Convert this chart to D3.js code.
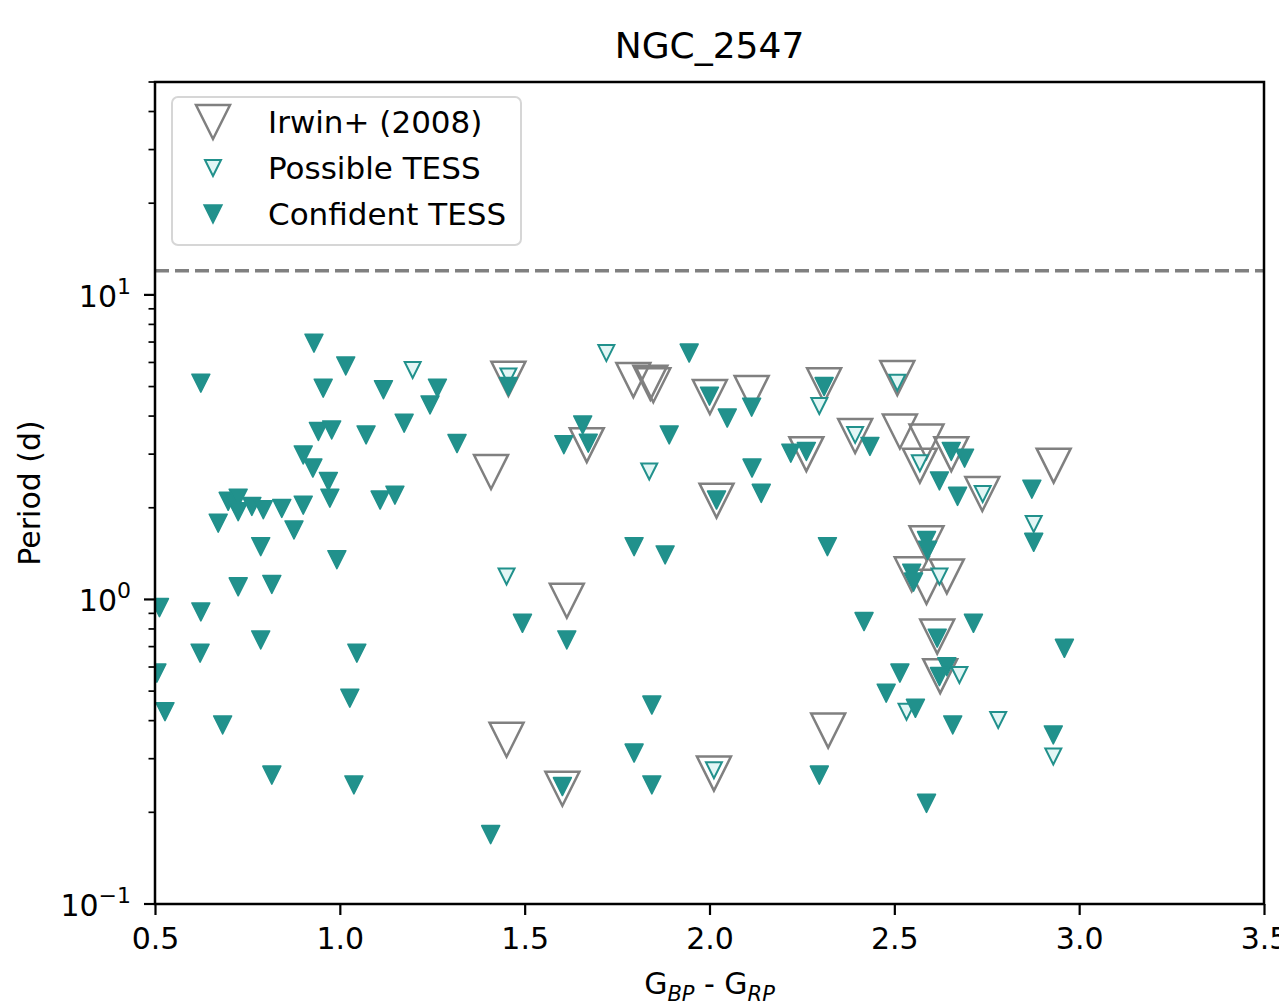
<!DOCTYPE html>
<html>
<head>
<meta charset="utf-8">
<script src="https://cdn.jsdelivr.net/npm/d3@7"></script>
<style>
  body { margin: 0; background: #fff; }
  text { font-family: "DejaVu Sans", sans-serif; fill: #000; }
</style>
</head>
<body>
<div id="chart"></div>
<script>
// colour index and period (d)
var irwinX = [1.456, 1.409, 1.614, 1.451, 1.602, 1.668, 1.794, 1.840, 1.848, 2.001, 2.019, 2.012,
  2.114, 2.310, 2.262, 2.321, 2.394, 2.508, 2.515, 2.587, 2.569, 2.654, 2.738, 2.931,
  2.587, 2.547, 2.642, 2.587, 2.616, 2.624];
var irwinP = [5.30, 2.62, 0.99, 0.346, 0.239, 3.21, 5.25, 5.15, 5.05, 4.62, 2.11, 0.268,
  4.76, 5.05, 3.00, 0.371, 3.44, 5.33, 3.56, 3.30, 2.75, 3.00, 2.22, 2.75,
  1.53, 1.21, 1.19, 1.10, 0.755, 0.560];

var possX = [1.197, 1.721, 1.456, 1.837, 1.451, 2.012, 2.297, 2.508, 2.394, 2.569, 2.739,
  2.877, 2.622, 2.676, 2.533, 2.781, 2.930];
var possP = [5.67, 6.44, 5.40, 2.63, 1.19, 0.275, 4.32, 5.15, 3.47, 2.80, 2.22,
  1.77, 1.19, 0.565, 0.428, 0.402, 0.305];

var confX = [0.930, 1.016, 0.624, 0.955, 1.118, 1.264, 1.244, 1.174, 0.942, 0.978, 1.071, 1.317,
  0.901, 0.927, 0.969, 0.973, 1.109, 1.149, 0.698, 0.714, 0.725, 0.725, 0.762, 0.793,
  0.843, 0.901, 0.671, 0.876, 0.786, 0.992, 0.725, 0.816, 0.512, 0.624, 0.786, 0.622,
  1.046, 0.505, 1.027, 0.527, 0.683, 0.816, 1.038, 1.456, 1.945, 2.000, 2.048, 1.606,
  1.657, 1.672, 1.891, 2.019, 1.796, 1.880, 1.494, 1.614, 1.844, 1.796, 1.602, 1.844,
  1.408, 2.114, 2.310, 2.434, 2.262, 2.220, 2.115, 2.140, 2.654, 2.690, 2.622, 2.671,
  2.872, 2.877, 2.319, 2.587, 2.590, 2.547, 2.552, 2.418, 2.616, 2.714, 2.960, 2.515,
  2.642, 2.622, 2.478, 2.557, 2.658, 2.930, 2.297, 2.587];
var confP = [6.94, 5.84, 5.13, 4.94, 4.88, 4.94, 4.35, 3.79, 3.56, 3.60, 3.47, 3.25,
  2.98, 2.70, 2.44, 2.15, 2.12, 2.20, 2.10, 2.08, 2.15, 1.94, 2.02, 1.97,
  1.99, 2.04, 1.78, 1.69, 1.49, 1.35, 1.10, 1.12, 0.94, 0.91, 0.736, 0.666,
  0.666, 0.573, 0.474, 0.428, 0.387, 0.265, 0.246, 5.00, 6.44, 4.65, 3.94, 3.22,
  3.74, 3.26, 3.47, 2.12, 1.49, 1.40, 0.835, 0.736, 0.450, 0.313, 0.243, 0.246,
  0.169, 4.28, 5.00, 3.18, 3.06, 3.02, 2.70, 2.23, 3.06, 2.91, 2.45, 2.18,
  2.30, 1.54, 1.49, 1.56, 1.45, 1.22, 1.14, 0.846, 0.746, 0.835, 0.691, 0.573,
  0.601, 0.558, 0.492, 0.439, 0.387, 0.359, 0.265, 0.214];

var xTicks = [0.5, 1.0, 1.5, 2.0, 2.5, 3.0, 3.5];
var yTicks = [0.1, 1, 10];
var cutoff = 12;
var legendLabels = ["Irwin+ (2008)", "Possible TESS", "Confident TESS"];

var teal = "#21918c";

// Rahmen des Plots
var W = 1279, H = 1007;
var margin = { top: 82, right: 15, bottom: 103, left: 155 };
var width = W - margin.left - margin.right;
var height = H - margin.top - margin.bottom;

var svg = d3.select("#chart").append("svg")
  .attr("width", W)
  .attr("height", H);

svg.append("rect").attr("width", W).attr("height", H).attr("fill", "#fff");

var g = svg.append("g")
  .attr("transform", "translate(" + margin.left + "," + margin.top + ")");

var x = d3.scaleLinear().domain([0.5, 3.5]).range([0, width]);
var y = d3.scaleLog().domain([0.1, 50]).range([height, 0]);

g.append("clipPath").attr("id", "clip")
  .append("rect").attr("width", width).attr("height", height);

// triangle pointing down, bbox centered on the point (like matplotlib 'v')
function tri(s) {
  return function (d) {
    var h = s / 2;
    return "M" + (d[0] - h) + "," + (d[1] - h) + "L" + (d[0] + h) + "," + (d[1] - h) +
      "L" + d[0] + "," + (d[1] + h) + "Z";
  };
}

var plot = g.append("g").attr("clip-path", "url(#clip)");

// dashed line
plot.append("line")
  .attr("x1", 0).attr("x2", width)
  .attr("y1", y(cutoff)).attr("y2", y(cutoff))
  .attr("stroke", "#808080")
  .attr("stroke-width", 3.5)
  .attr("stroke-dasharray", "14,6");

function pts(xs, ps) {
  return xs.map(function (v, i) { return [x(v), y(ps[i])]; });
}

plot.selectAll(".irwin")
  .data(pts(irwinX, irwinP))
  .enter().append("path")
  .attr("class", "irwin")
  .attr("d", tri(34))
  .attr("fill", "none")
  .attr("stroke", "#808080")
  .attr("stroke-width", 2.5);

plot.selectAll(".poss")
  .data(pts(possX, possP))
  .enter().append("path")
  .attr("class", "poss")
  .attr("d", tri(16))
  .attr("fill", "#e2f6f5")
  .attr("stroke", teal)
  .attr("stroke-width", 2);

plot.selectAll(".conf")
  .data(pts(confX, confP))
  .enter().append("path")
  .attr("class", "conf")
  .attr("d", tri(18))
  .attr("fill", teal)
  .attr("stroke", teal)
  .attr("stroke-width", 1.5)
  .attr("stroke-linejoin", "round");

// x-Achse
var xAxis = d3.axisBottom(x)
  .tickValues(xTicks)
  .tickFormat(d3.format(".1f"))
  .tickSize(11)
  .tickPadding(13);

var gx = g.append("g")
  .attr("transform", "translate(0," + height + ")")
  .call(xAxis);
gx.select(".domain").remove();
gx.selectAll("line").attr("stroke", "#000").attr("stroke-width", 2.2);
gx.selectAll("text").style("font-size", "30px");

// y-Achse (log), major + minor ticks
var minor = [];
[0.1, 1, 10].forEach(function (dec) {
  for (var k = 2; k <= 9; k++) {
    var v = dec * k;
    if (v <= 50) minor.push(v);
  }
});

var gy = g.append("g");
gy.selectAll(".minor")
  .data(minor)
  .enter().append("line")
  .attr("x1", -6.5).attr("x2", 0)
  .attr("y1", function (d) { return y(d); })
  .attr("y2", function (d) { return y(d); })
  .attr("stroke", "#000").attr("stroke-width", 1.7);

gy.selectAll(".major")
  .data(yTicks)
  .enter().append("line")
  .attr("x1", -11).attr("x2", 0)
  .attr("y1", function (d) { return y(d); })
  .attr("y2", function (d) { return y(d); })
  .attr("stroke", "#000").attr("stroke-width", 2.2);

var ylab = gy.selectAll(".ylab")
  .data(yTicks)
  .enter().append("text")
  .attr("text-anchor", "end")
  .attr("x", -24)
  .attr("y", function (d) { return y(d) + 12; })
  .style("font-size", "30px");
ylab.append("tspan").text("10");
ylab.append("tspan")
  .attr("dy", -13)
  .style("font-size", "22px")
  .text(function (d) { return d === 0.1 ? "\u22121" : String(Math.round(Math.log10(d))); });

// Rahmen
g.append("rect")
  .attr("width", width).attr("height", height)
  .attr("fill", "none")
  .attr("stroke", "#000")
  .attr("stroke-width", 2.5);

// title and axis labels
svg.append("text")
  .attr("x", margin.left + width / 2)
  .attr("y", 58)
  .attr("text-anchor", "middle")
  .style("font-size", "36px")
  .text("NGC_2547");

var xl = svg.append("text")
  .attr("x", margin.left + width / 2)
  .attr("y", 994)
  .attr("text-anchor", "middle")
  .style("font-size", "30px");
xl.append("tspan").text("G");
xl.append("tspan").attr("dy", 7).style("font-size", "21px").style("font-style", "italic").text("BP");
xl.append("tspan").attr("dy", -7).text(" - G");
xl.append("tspan").attr("dy", 7).style("font-size", "21px").style("font-style", "italic").text("RP");

svg.append("text")
  .attr("transform", "translate(40," + (margin.top + height / 2) + ") rotate(-90)")
  .attr("text-anchor", "middle")
  .style("font-size", "30px")
  .text("Period (d)");

// Legende
var leg = svg.append("g");
leg.append("rect")
  .attr("x", 172).attr("y", 97)
  .attr("width", 349).attr("height", 148)
  .attr("rx", 6)
  .attr("fill", "#fff").attr("fill-opacity", 0.8)
  .attr("stroke", "#d6d6d6").attr("stroke-width", 2);

var rows = [122, 168, 214];
leg.append("path").attr("d", tri(34)([213, rows[0]]))
  .attr("fill", "none").attr("stroke", "#808080").attr("stroke-width", 2.5);
leg.append("path").attr("d", tri(16)([213, rows[1]]))
  .attr("fill", "#e2f6f5").attr("stroke", teal).attr("stroke-width", 2);
leg.append("path").attr("d", tri(18)([213, rows[2]]))
  .attr("fill", teal).attr("stroke", teal).attr("stroke-width", 1.5);

leg.selectAll(".lt")
  .data(legendLabels)
  .enter().append("text")
  .attr("x", 268)
  .attr("y", function (d, i) { return rows[i] + 11; })
  .style("font-size", "31px")
  .text(function (d) { return d; });
</script>
</body>
</html>
